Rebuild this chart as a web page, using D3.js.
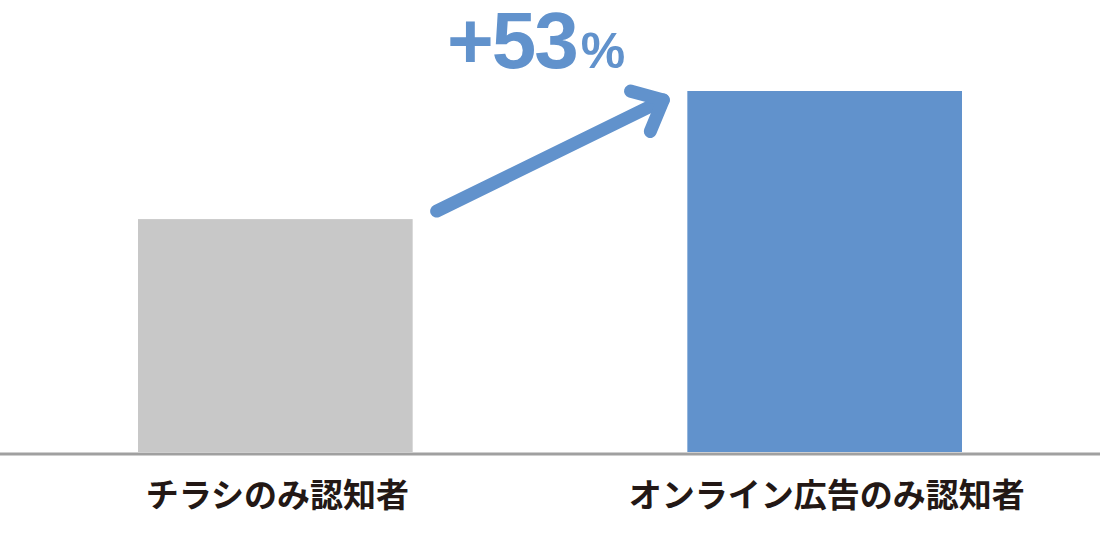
<!DOCTYPE html>
<html>
<head>
<meta charset="utf-8">
<script src="https://cdn.jsdelivr.net/npm/d3@7"></script>
<style>
  body { margin: 0; background: #fff; }
  svg { display: block; }
</style>
</head>
<body>
<svg></svg>
<script>
// data (relative awareness index)
const categories = ["チラシのみ認知者", "オンライン広告のみ認知者"];
const values = [100, 155];
const barColors = ["#c8c8c8", "#6192cc"];
const growthNumber = "+53";
const growthUnit = "%";

const w = 1100;
const h = 543;
const baseY = 452;
const topY = 91;
const blue = "#6192cc";

const svg = d3.select("svg")
              .attr("width", w)
              .attr("height", h);

const xScale = d3.scaleBand()
                 .domain(categories)
                 .range([138, 962])
                 .paddingInner(0.5)
                 .paddingOuter(0);

const yScale = d3.scaleLinear()
                 .domain([0, d3.max(values)])
                 .range([baseY, topY]);

// bars
svg.selectAll("rect.bar")
   .data(categories)
   .enter()
   .append("rect")
   .attr("class", "bar")
   .attr("x", d => xScale(d))
   .attr("y", (d, i) => yScale(values[i]))
   .attr("width", xScale.bandwidth())
   .attr("height", (d, i) => baseY - yScale(values[i]))
   .attr("fill", (d, i) => barColors[i]);

// baseline
svg.append("line")
   .attr("x1", 0)
   .attr("x2", w)
   .attr("y1", baseY + 2)
   .attr("y2", baseY + 2)
   .attr("stroke", "#a0a0a0")
   .attr("stroke-width", 3);

// category labels
svg.selectAll("text.cat")
   .data(categories)
   .enter()
   .append("text")
   .attr("class", "cat")
   .attr("x", d => xScale(d) + xScale.bandwidth() / 2 + 2)
   .attr("y", 507)
   .attr("text-anchor", "middle")
   .attr("font-family", "'Noto Sans CJK JP', sans-serif")
   .attr("font-weight", "bold")
   .attr("font-size", 33)
   .attr("fill", "#231815")
   .text(d => d);

// growth arrow between the two bar tops
const tail = [xScale(categories[0]) + xScale.bandwidth() + 24, yScale(values[0]) - 8];
const tip = [xScale(categories[1]) - 24, yScale(values[1]) + 9];
const ang = Math.atan2(tip[1] - tail[1], tip[0] - tail[0]);
const armLen = 34;
const armA = [tip[0] - armLen * Math.cos(ang - 0.72), tip[1] - armLen * Math.sin(ang - 0.72)];
const armB = [tip[0] - armLen * Math.cos(ang + 0.72), tip[1] - armLen * Math.sin(ang + 0.72)];

const arrowLine = d3.line();
svg.append("path")
   .attr("d", arrowLine([tail, tip]))
   .attr("fill", "none")
   .attr("stroke", blue)
   .attr("stroke-width", 13)
   .attr("stroke-linecap", "round");
svg.append("path")
   .attr("d", arrowLine([armA, tip, armB]))
   .attr("fill", "none")
   .attr("stroke", blue)
   .attr("stroke-width", 13)
   .attr("stroke-linecap", "round")
   .attr("stroke-linejoin", "round");

// growth label
const growth = svg.append("text")
   .attr("x", 447)
   .attr("y", 68)
   .attr("font-family", "'Liberation Sans', Arial, sans-serif")
   .attr("font-weight", "bold")
   .attr("fill", blue);
growth.append("tspan")
      .attr("font-size", 80)
      .attr("letter-spacing", -2)
      .text(growthNumber);
growth.append("tspan")
      .attr("font-size", 50)
      .attr("dx", 4)
      .text(growthUnit);
</script>
</body>
</html>
